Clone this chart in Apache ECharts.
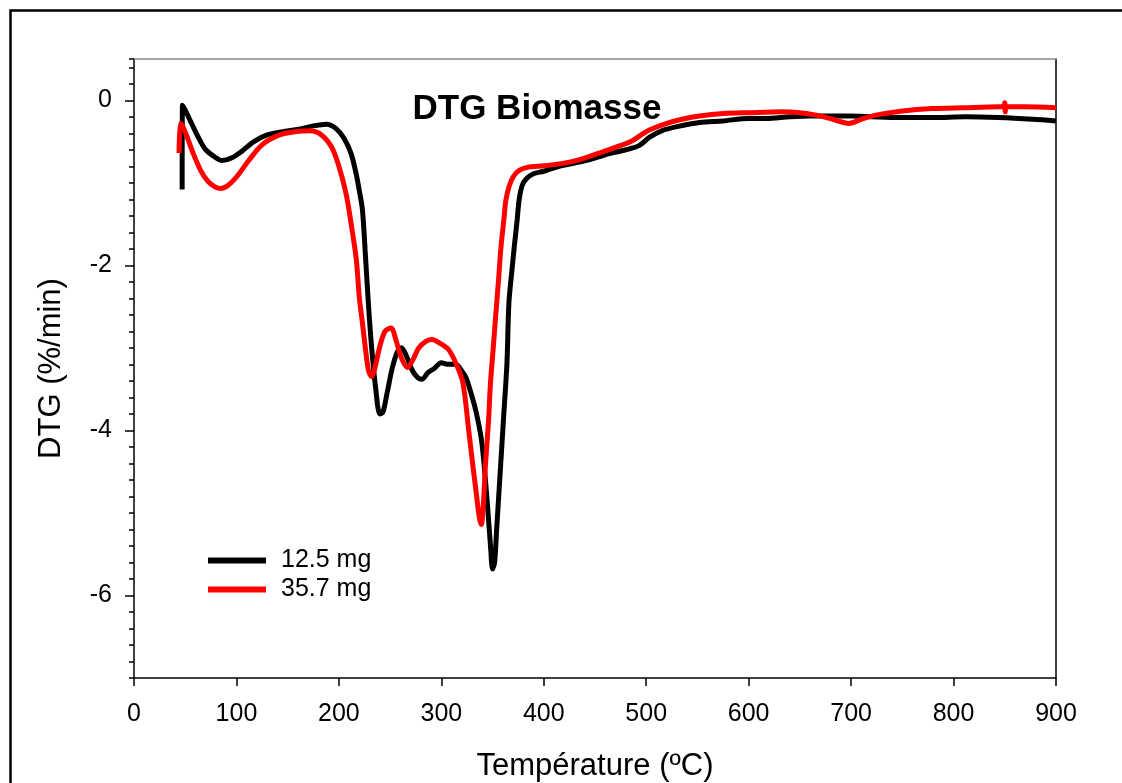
<!DOCTYPE html>
<html>
<head>
<meta charset="utf-8">
<script src="https://cdn.jsdelivr.net/npm/echarts@6/dist/echarts.min.js"></script>
<style>
html,body{margin:0;padding:0;background:#fff;}
#c{width:1122px;height:783px;}
</style>
</head>
<body>
<div id="c"></div>
<script>
// Temperature (°C) / DTG (%/min) pairs
const black125 = [
[47,-1.08],[47.3,-0.06],[50,-0.12],[55,-0.25],[60,-0.38],[65,-0.5],[70,-0.6],[78,-0.68],[86,-0.73],[95,-0.7],
[105,-0.62],[117,-0.5],[130,-0.42],[145,-0.38],[161,-0.35],[175,-0.31],[188,-0.29],[197,-0.34],[205,-0.46],
[212,-0.65],[217,-0.9],[220,-1.1],[223,-1.33],[226,-1.9],[229,-2.5],[232,-3.0],[236,-3.5],[240,-3.8],[243,-3.78],
[247,-3.55],[252,-3.25],[257,-3.05],[261,-3.0],[266,-3.1],[272,-3.28],[277,-3.36],[281,-3.38],[287,-3.3],
[293,-3.25],[300,-3.18],[307,-3.2],[314,-3.2],[320,-3.28],[324,-3.36],[329,-3.55],[334,-3.78],[339,-4.1],
[342,-4.45],[345,-4.9],[348,-5.4],[350,-5.68],[352,-5.6],[354,-5.2],[356,-4.8],[359,-4.2],[361,-3.8],[364,-3.2],
[366,-2.45],[369,-2.05],[371,-1.8],[374,-1.45],[376,-1.2],[379,-1.03],[383,-0.95],[390,-0.89],[400,-0.86],
[415,-0.8],[430,-0.76],[445,-0.72],[460,-0.66],[480,-0.6],[493,-0.55],[503,-0.45],[515,-0.37],[530,-0.32],
[552,-0.27],[575,-0.25],[600,-0.22],[617,-0.22],[640,-0.2],[660,-0.19],[681,-0.19],[700,-0.19],[720,-0.2],
[747,-0.21],[780,-0.21],[812,-0.2],[844,-0.21],[877,-0.23],[900,-0.25]
];
const red357 = [
[44,-0.64],[45,-0.28],[47,-0.3],[52,-0.45],[58,-0.65],[65,-0.85],[72,-0.98],[79,-1.05],[85,-1.07],[92,-1.03],
[100,-0.93],[112,-0.73],[125,-0.54],[142,-0.42],[158,-0.38],[172,-0.37],[183,-0.42],[193,-0.57],[200,-0.8],
[207,-1.13],[212,-1.5],[217,-1.93],[220,-2.4],[223,-2.7],[226,-3.02],[229,-3.28],[232,-3.35],[235,-3.25],
[240,-2.98],[245,-2.8],[251,-2.76],[256,-2.92],[261,-3.12],[267,-3.24],[272,-3.15],[278,-3.0],[285,-2.92],
[291,-2.9],[298,-2.94],[307,-3.02],[314,-3.18],[321,-3.42],[327,-4.03],[331,-4.45],[334,-4.75],[337,-5.05],
[339,-5.14],[341,-4.9],[343,-4.43],[346,-3.9],[348,-3.42],[351,-2.95],[353,-2.62],[356,-2.15],[358,-1.81],
[361,-1.45],[363,-1.21],[366,-1.05],[370,-0.93],[376,-0.85],[385,-0.81],[395,-0.8],[410,-0.78],[425,-0.75],
[440,-0.7],[454,-0.64],[470,-0.57],[485,-0.5],[495,-0.42],[503,-0.36],[520,-0.28],[535,-0.23],[552,-0.19],
[575,-0.16],[600,-0.15],[633,-0.14],[650,-0.15],[666,-0.18],[682,-0.23],[698,-0.28],[710,-0.23],[724,-0.18],
[750,-0.13],[779,-0.1],[810,-0.09],[844,-0.08],[849,-0.08],[850,-0.03],[850.5,-0.14],[851,-0.08],[870,-0.08],[900,-0.09]
];
const seriesNames = ['12.5 mg','35.7 mg'];
const yMajorTicks = [-6,-4,-2,0];
const titleText = 'DTG Biomasse';
const xTitle = 'Température (ºC)';
const yTitle = 'DTG (%/min)';

const FONT = 'Liberation Sans, Arial, sans-serif';
const chart = echarts.init(document.getElementById('c'), null, {renderer:'canvas'});
const axisLineStyle = {color:'#000', width:1.5};
chart.setOption({
  animation:false,
  backgroundColor:'#fff',
  title:{text:titleText, left:532, top:87, textAlign:'center',
    textStyle:{fontFamily:FONT, fontSize:35, fontWeight:'bold', color:'#000'}},
  grid:{left:134, right:66, top:59, bottom:105, containLabel:false, outerBoundsMode:'none'},
  legend:{
    orient:'vertical', left:203, top:543, itemWidth:58, itemHeight:6, itemGap:4, icon:'rect',
    textStyle:{fontFamily:FONT, fontSize:25, color:'#000', padding:[0,0,0,10]},
    data:seriesNames
  },
  xAxis:[{
    type:'value', min:0, max:900, interval:100, position:'bottom',
    name:xTitle, nameLocation:'middle', nameGap:73,
    nameTextStyle:{fontFamily:FONT, fontSize:31, color:'#000'},
    axisLine:{show:true, onZero:false, lineStyle:axisLineStyle},
    axisTick:{show:true, inside:false, length:8, lineStyle:{color:'#000', width:1.5}},
    axisLabel:{fontFamily:FONT, fontSize:25, color:'#000', margin:24},
    splitLine:{show:false}
  },{
    type:'value', min:0, max:900, position:'top',
    axisLine:{show:true, onZero:false, lineStyle:{color:'#888', width:1.5}},
    axisTick:{show:false}, axisLabel:{show:false}, splitLine:{show:false}
  }],
  yAxis:[{
    type:'value', min:-7, max:0.5, interval:0.2, position:'left',
    axisLine:{show:true, onZero:false, lineStyle:axisLineStyle},
    axisTick:{show:true, inside:false, length:5, lineStyle:{color:'#000', width:1.5}},
    axisLabel:{show:false}, splitLine:{show:false}
  },{
    type:'value', min:-7, max:0.5, position:'left',
    name:yTitle, nameLocation:'middle', nameGap:67, nameRotate:90,
    nameTextStyle:{fontFamily:FONT, fontSize:31, color:'#000'},
    axisLine:{show:false},
    axisTick:{show:true, inside:false, length:9, customValues:yMajorTicks, lineStyle:{color:'#000', width:1.5}},
    axisLabel:{fontFamily:FONT, fontSize:25, color:'#000', margin:22, customValues:yMajorTicks},
    splitLine:{show:false}
  },{
    type:'value', min:-7, max:0.5, position:'right',
    axisLine:{show:true, onZero:false, lineStyle:axisLineStyle},
    axisTick:{show:false}, axisLabel:{show:false}, splitLine:{show:false}
  }],
  series:[{
    name:seriesNames[0], type:'line', data:black125, xAxisIndex:0, yAxisIndex:0,
    showSymbol:false, symbol:'none', smooth:0.3,
    lineStyle:{color:'#000', width:5}, itemStyle:{color:'#000'}
  },{
    name:seriesNames[1], type:'line', data:red357, xAxisIndex:0, yAxisIndex:0,
    showSymbol:false, symbol:'none', smooth:0.3,
    lineStyle:{color:'#ff0000', width:5}, itemStyle:{color:'#ff0000'}
  }],
  graphic:[{
    type:'rect', left:8, top:8, silent:true, z:-10,
    shape:{x:0, y:0, width:1200, height:900},
    style:{fill:null, stroke:'#000', lineWidth:2.5}
  }]
});
</script>
</body>
</html>
